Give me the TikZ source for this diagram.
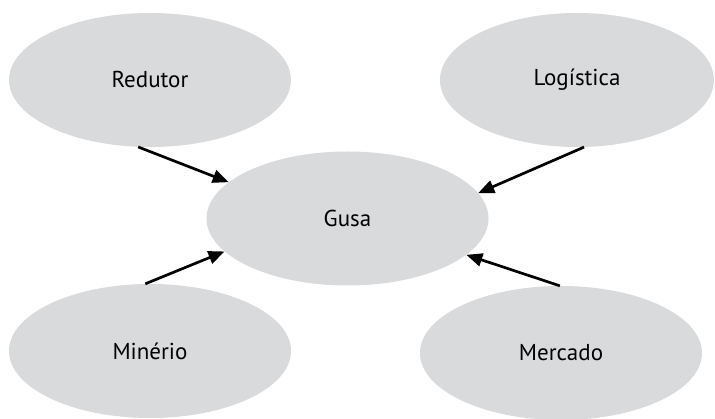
\documentclass[tikz,border=0pt]{standalone}
\usepackage{fontspec}
\setmainfont{PT Sans}
\usetikzlibrary{shapes.geometric,arrows.meta}
\definecolor{ovalgray}{RGB}{217,218,220}
\tikzset{
  oval/.style={ellipse, fill=ovalgray, draw=none, inner sep=0pt,
    minimum width=282pt, minimum height=134pt,
    font=\fontsize{23}{27}\selectfont},
  link/.style={line width=2.7pt, -{Triangle[length=16pt,width=13pt]}}
}
\begin{document}
\begin{tikzpicture}[x=1pt,y=-1pt]
\useasboundingbox (0,0) rectangle (715,419);
\fill[white] (0,0) rectangle (715,419);
\node[oval] (redutor) at (150,80) {Redutor};
\node[oval, minimum width=274pt] (logistica) at (577,80) {Logística};
\node[oval] (gusa) at (347.5,218.5) {Gusa};
\node[oval] (minerio) at (150,351) {Minério};
\node[oval] (mercado) at (561,353) {Mercado};
\draw[link] (redutor.260.7) -- (gusa.163.5);
\draw[link] (logistica.276) -- (gusa.11.1);
\draw[link] (minerio.94.1) -- (gusa.195.4);
\draw[link] (mercado.91.8) -- (gusa.343.3);
\end{tikzpicture}
\end{document}
